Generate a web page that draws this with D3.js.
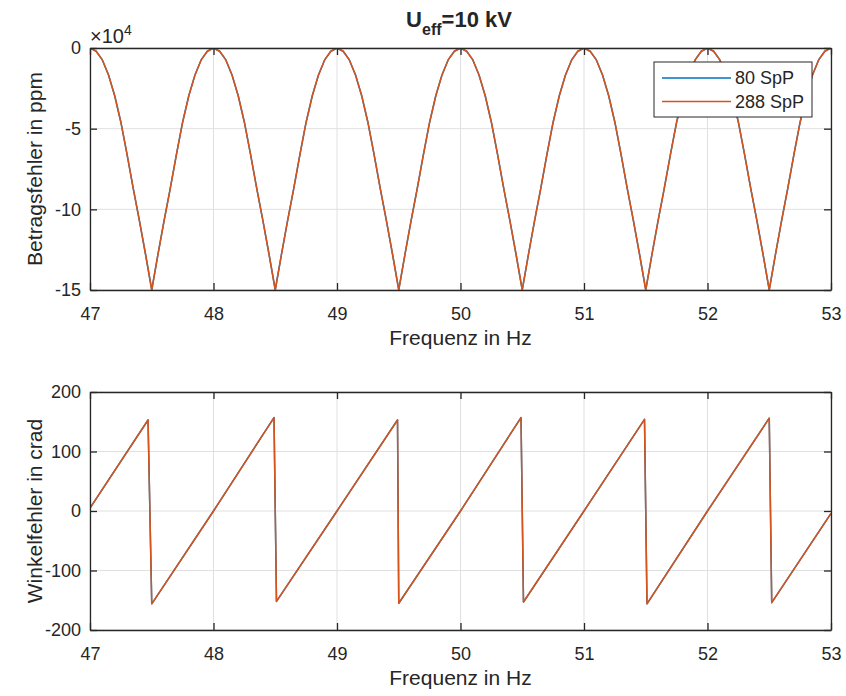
<!DOCTYPE html>
<html>
<head>
<meta charset="utf-8">
<script src="https://cdn.jsdelivr.net/npm/d3@7"></script>
<style>
  body { margin: 0; background: #fff; }
  text { font-family: "Liberation Sans", Arial, Helvetica, sans-serif; fill: #262626; }
</style>
</head>
<body>
<svg id="fig" width="846" height="696"></svg>
<script>
// Frequency grid of the magnitude-error sweep (Hz)
const freqGrid = [
  47.00, 47.05, 47.10, 47.15, 47.20, 47.25, 47.30, 47.35, 47.40, 47.45,
  47.50, 47.55, 47.60, 47.65, 47.70, 47.75, 47.80, 47.85, 47.90, 47.95,
  48.00, 48.05, 48.10, 48.15, 48.20, 48.25, 48.30, 48.35, 48.40, 48.45,
  48.50, 48.55, 48.60, 48.65, 48.70, 48.75, 48.80, 48.85, 48.90, 48.95,
  49.00, 49.05, 49.10, 49.15, 49.20, 49.25, 49.30, 49.35, 49.40, 49.45,
  49.50, 49.55, 49.60, 49.65, 49.70, 49.75, 49.80, 49.85, 49.90, 49.95,
  50.00, 50.05, 50.10, 50.15, 50.20, 50.25, 50.30, 50.35, 50.40, 50.45,
  50.50, 50.55, 50.60, 50.65, 50.70, 50.75, 50.80, 50.85, 50.90, 50.95,
  51.00, 51.05, 51.10, 51.15, 51.20, 51.25, 51.30, 51.35, 51.40, 51.45,
  51.50, 51.55, 51.60, 51.65, 51.70, 51.75, 51.80, 51.85, 51.90, 51.95,
  52.00, 52.05, 52.10, 52.15, 52.20, 52.25, 52.30, 52.35, 52.40, 52.45,
  52.50, 52.55, 52.60, 52.65, 52.70, 52.75, 52.80, 52.85, 52.90, 52.95,
  53.00
];

// Betragsfehler (ppm), 80 samples per period
const betrag80 = [
  0, -2000, -7400, -16700, -29600, -46000, -66000, -87000, -107000, -128000,
  -150000, -128000, -107000, -87000, -66000, -46000, -29600, -16700, -7400, -2000,
  0, -2000, -7400, -16700, -29600, -46000, -66000, -87000, -107000, -128000,
  -150000, -128000, -107000, -87000, -66000, -46000, -29600, -16700, -7400, -2000,
  0, -2000, -7400, -16700, -29600, -46000, -66000, -87000, -107000, -128000,
  -150000, -128000, -107000, -87000, -66000, -46000, -29600, -16700, -7400, -2000,
  0, -2000, -7400, -16700, -29600, -46000, -66000, -87000, -107000, -128000,
  -150000, -128000, -107000, -87000, -66000, -46000, -29600, -16700, -7400, -2000,
  0, -2000, -7400, -16700, -29600, -46000, -66000, -87000, -107000, -128000,
  -150000, -128000, -107000, -87000, -66000, -46000, -29600, -16700, -7400, -2000,
  0, -2000, -7400, -16700, -29600, -46000, -66000, -87000, -107000, -128000,
  -150000, -128000, -107000, -87000, -66000, -46000, -29600, -16700, -7400, -2000,
  0
];

// Betragsfehler (ppm), 288 samples per period (coincides with 80 SpP)
const betrag288 = [
  0, -2000, -7400, -16700, -29600, -46000, -66000, -87000, -107000, -128000,
  -150000, -128000, -107000, -87000, -66000, -46000, -29600, -16700, -7400, -2000,
  0, -2000, -7400, -16700, -29600, -46000, -66000, -87000, -107000, -128000,
  -150000, -128000, -107000, -87000, -66000, -46000, -29600, -16700, -7400, -2000,
  0, -2000, -7400, -16700, -29600, -46000, -66000, -87000, -107000, -128000,
  -150000, -128000, -107000, -87000, -66000, -46000, -29600, -16700, -7400, -2000,
  0, -2000, -7400, -16700, -29600, -46000, -66000, -87000, -107000, -128000,
  -150000, -128000, -107000, -87000, -66000, -46000, -29600, -16700, -7400, -2000,
  0, -2000, -7400, -16700, -29600, -46000, -66000, -87000, -107000, -128000,
  -150000, -128000, -107000, -87000, -66000, -46000, -29600, -16700, -7400, -2000,
  0, -2000, -7400, -16700, -29600, -46000, -66000, -87000, -107000, -128000,
  -150000, -128000, -107000, -87000, -66000, -46000, -29600, -16700, -7400, -2000,
  0
];

// Winkelfehler (crad): sawtooth vertices
const winkelFreq = [
  47.00, 47.47, 47.50, 48.00, 48.49, 48.51, 49.00, 49.49, 49.50, 50.00,
  50.49, 50.51, 51.00, 51.49, 51.51, 52.00, 52.50, 52.52, 53.00
];
const winkel80 = [
  5, 153, -156, 0, 157, -152, 0, 153, -155, 0,
  157, -153, 0, 154, -156, 0, 156, -154, -4
];
const winkel288 = [
  5, 153, -156, 0, 157, -152, 0, 153, -155, 0,
  157, -153, 0, 154, -156, 0, 156, -154, -4
];

const xTicks = [47, 48, 49, 50, 51, 52, 53];
const betragTicks = [-150000, -100000, -50000, 0];
const winkelTicks = [-200, -100, 0, 100, 200];
const seriesNames = ["80 SpP", "288 SpP"];
const seriesColors = ["#0072BD", "#D95319"];

const svg = d3.select("#fig");
const axisColor = "#262626";
const gridColor = "#e0e0e0";
const tickFont = 18;
const labelFont = 21;
const left = 90, right = 831;

// MATLAB-style tick text with an ASCII hyphen for negatives
const intFmt = d => String(Math.round(d));

const x = d3.scaleLinear().domain([47, 53]).range([left, right]);

function panel(id, top, bottom, yDomain, yTicks, yFormat, xs, seriesList, yLabel) {
  const y = d3.scaleLinear().domain(yDomain).range([bottom, top]);
  const g = svg.append("g");

  g.append("clipPath").attr("id", id)
    .append("rect").attr("x", left).attr("y", top)
    .attr("width", right - left).attr("height", bottom - top);

  // grid
  g.append("g").selectAll("line").data(xTicks).join("line")
    .attr("x1", d => x(d)).attr("x2", d => x(d))
    .attr("y1", top).attr("y2", bottom)
    .attr("stroke", gridColor).attr("stroke-width", 1);
  g.append("g").selectAll("line").data(yTicks).join("line")
    .attr("x1", left).attr("x2", right)
    .attr("y1", d => y(d)).attr("y2", d => y(d))
    .attr("stroke", gridColor).attr("stroke-width", 1);

  // curves
  const line = d3.line().x(d => x(d[0])).y(d => y(d[1]));
  seriesList.forEach((vals, i) => {
    g.append("path")
      .datum(xs.map((f, k) => [f, vals[k]]))
      .attr("clip-path", `url(#${id})`)
      .attr("fill", "none")
      .attr("stroke", seriesColors[i])
      .attr("stroke-width", 1.5)
      .attr("stroke-linejoin", "round")
      .attr("d", line);
  });

  // axes with inward ticks
  const styleAxis = sel => {
    sel.selectAll("path.domain").attr("stroke", axisColor).attr("stroke-width", 1.3);
    sel.selectAll(".tick line").attr("stroke", axisColor).attr("stroke-width", 1.3);
    sel.selectAll(".tick text").attr("fill", axisColor)
      .style("font-family", '"Liberation Sans", Arial, sans-serif')
      .style("font-size", tickFont + "px");
    sel.attr("font-family", null).attr("font-size", null);
  };
  g.append("g").attr("transform", `translate(0,${bottom})`)
    .call(d3.axisBottom(x).tickValues(xTicks).tickFormat(intFmt)
      .tickSizeInner(-7).tickSizeOuter(0).tickPadding(17))
    .call(styleAxis);
  g.append("g").attr("transform", `translate(0,${top})`)
    .call(d3.axisTop(x).tickValues(xTicks).tickFormat("")
      .tickSizeInner(-7).tickSizeOuter(0))
    .call(styleAxis);
  g.append("g").attr("transform", `translate(${left},0)`)
    .call(d3.axisLeft(y).tickValues(yTicks).tickFormat(yFormat)
      .tickSizeInner(-7).tickSizeOuter(0).tickPadding(9))
    .call(styleAxis);
  g.append("g").attr("transform", `translate(${right},0)`)
    .call(d3.axisRight(y).tickValues(yTicks).tickFormat("")
      .tickSizeInner(-7).tickSizeOuter(0))
    .call(styleAxis);

  // axis labels
  g.append("text")
    .attr("x", (left + right) / 2).attr("y", bottom + 55)
    .attr("text-anchor", "middle").style("font-size", labelFont + "px")
    .text("Frequenz in Hz");
  g.append("text")
    .attr("transform", `translate(42,${(top + bottom) / 2}) rotate(-90)`)
    .attr("text-anchor", "middle").style("font-size", labelFont + "px")
    .text(yLabel);
  return y;
}

// upper panel: magnitude error
panel("clipTop", 48, 290, [-150000, 0], betragTicks, d => intFmt(d / 1e4),
  freqGrid, [betrag80, betrag288], "Betragsfehler in ppm");

// exponent marker of the magnitude axis
const expo = svg.append("text").attr("x", 90).attr("y", 43)
  .style("font-size", "20px").attr("fill", "#595959");
expo.append("tspan").text("\u00d710");
expo.append("tspan").attr("dy", -8).style("font-size", "14px").text("4");

// lower panel: phase error
panel("clipBottom", 392, 630, [-200, 200], winkelTicks, intFmt,
  winkelFreq, [winkel80, winkel288], "Winkelfehler in crad");

// title
const title = svg.append("text").attr("x", 459).attr("y", 27)
  .attr("text-anchor", "middle").style("font-size", "22px").style("font-weight", "bold");
title.append("tspan").text("U");
title.append("tspan").attr("dy", 8).style("font-size", "16px").text("eff");
title.append("tspan").attr("dy", -8).text("=10 kV");

// legend
const lg = svg.append("g");
lg.append("rect").attr("x", 654).attr("y", 62).attr("width", 158).attr("height", 55)
  .attr("fill", "#fff").attr("stroke", axisColor).attr("stroke-width", 1);
seriesNames.forEach((name, i) => {
  const yy = 78 + i * 23.5;
  lg.append("line").attr("x1", 662).attr("x2", 731).attr("y1", yy).attr("y2", yy)
    .attr("stroke", seriesColors[i]).attr("stroke-width", 1.5);
  lg.append("text").attr("x", 735).attr("y", yy).attr("dy", "0.35em")
    .style("font-size", tickFont + "px").text(name);
});
</script>
</body>
</html>
